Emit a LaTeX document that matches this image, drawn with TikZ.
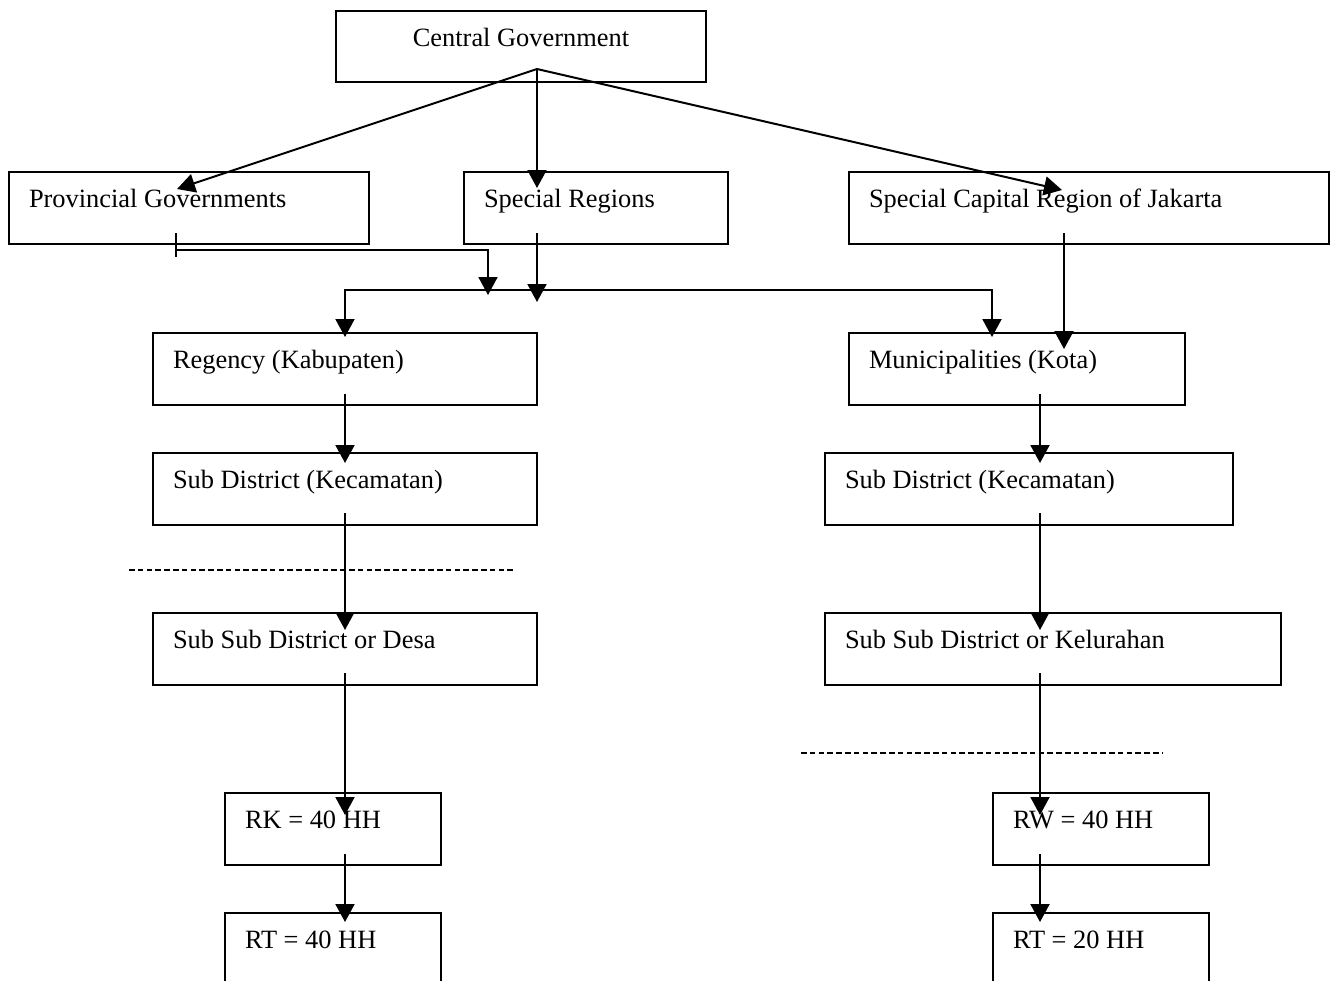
\documentclass[tikz,border=0pt]{standalone}
\usepackage{fontspec}
\setmainfont{Liberation Serif}
\usetikzlibrary{arrows.meta,calc}

\tikzset{
  hd/.tip={Triangle[length=9pt,width=9.5pt]},
  box/.style={draw, line width=1pt, anchor=north west, inner xsep=10pt, inner ysep=0pt,
    text height=17.5pt, text depth=18.5pt, align=flush left, font=\fontsize{13.2}{15}\selectfont},
  arr/.style={line width=1pt, -hd},
  sep/.style={line width=0.7pt, dash pattern=on 2.75pt off 1.65pt}
}

\begin{document}
\begin{tikzpicture}[x=0.5pt,y=-0.5pt]
\useasboundingbox (0,0) rectangle (1330,981);
\clip (0,0) rectangle (1330,981);
% top level
\node[box,align=flush center,text width=165pt,text depth=18pt] (cg) at (335,10) {Central Government};
\node[box,text width=160pt] (prov) at (8,171) {Provincial Governments};
\node[box,text width=112pt] (spec) at (463,171) {Special Regions};
\node[box,text width=220pt] (jak) at (848,171) {Special Capital Region of Jakarta};
% Kabupaten side
\node[box,text width=172pt] (reg) at (152,332) {Regency (Kabupaten)};
\node[box,text width=172pt] (subl) at (152,452) {Sub District (Kecamatan)};
\node[box,text width=172pt] (desa) at (152,612) {Sub Sub District or Desa};
\node[box,text width=88pt] (rk) at (224,792) {RK = 40 HH};
\node[box,text width=88pt] (rtl) at (224,912) {RT = 40 HH};
% Kota side
\node[box,text width=148pt] (mun) at (848,332) {Municipalities (Kota)};
\node[box,text width=184pt] (subr) at (824,452) {Sub District (Kecamatan)};
\node[box,text width=208pt] (kel) at (824,612) {Sub Sub District or Kelurahan};
\node[box,text width=88pt] (rw) at (992,792) {RW = 40 HH};
\node[box,text width=88pt] (rtr) at (992,912) {RT = 20 HH};

\coordinate (hub) at (537,69);
\coordinate (bus) at (664,290);
\coordinate (colr) at (1040,0);

% from the centre
\draw[arr] (hub) -- ($(prov.north west)+(169,18)$);
\draw[arr] (hub) -- ($(hub |- spec.north)+(0,17)$);
\draw[arr] (hub) -- ($(jak.north west)+(214,19)$);

% down to Kabupaten and Kota
\draw[line width=1pt] ($(prov.south west)+(168,-12)$) -- +(0,24);
\draw[arr] ($(prov.south west)+(168,5)$) -| ($(bus)+(-176,5)$);
\draw[arr] ($(hub |- spec.south)+(0,-12)$) -- ($(hub |- bus)+(0,12)$);
\draw[line width=1pt, hd-hd] ($(reg.north)+(0,5)$) |- (bus) -| ($(mun.north west)+(144,5)$);
\draw[arr] ($(jak.south west)+(216,-12)$) -- ($(jak.south west |- mun.north)+(216,17)$);

% left column
\draw[arr] ($(reg.south)+(0,-12)$) -- ($(subl.north)+(0,11)$);
\draw[arr] ($(subl.south)+(0,-13)$) -- ($(desa.north)+(0,18)$);
\draw[arr] ($(desa.south)+(0,-13)$) -- ($(desa.south |- rk.north)+(0,23)$);
\draw[arr] ($(desa.south |- rk.south)+(0,-12)$) -- ($(desa.south |- rtl.north)+(0,10)$);

% right column
\draw[arr] ($(colr |- mun.south)+(0,-12)$) -- ($(colr |- subr.north)+(0,11)$);
\draw[arr] ($(colr |- subr.south)+(0,-13)$) -- ($(colr |- kel.north)+(0,18)$);
\draw[arr] ($(colr |- kel.south)+(0,-13)$) -- ($(colr |- rw.north)+(0,23)$);
\draw[arr] ($(colr |- rw.south)+(0,-12)$) -- ($(colr |- rtr.north)+(0,10)$);

% dashed rules
\draw[sep] (129,570) -- (515,570);
\draw[sep] (801,753) -- (1162,753);
\end{tikzpicture}
\end{document}
